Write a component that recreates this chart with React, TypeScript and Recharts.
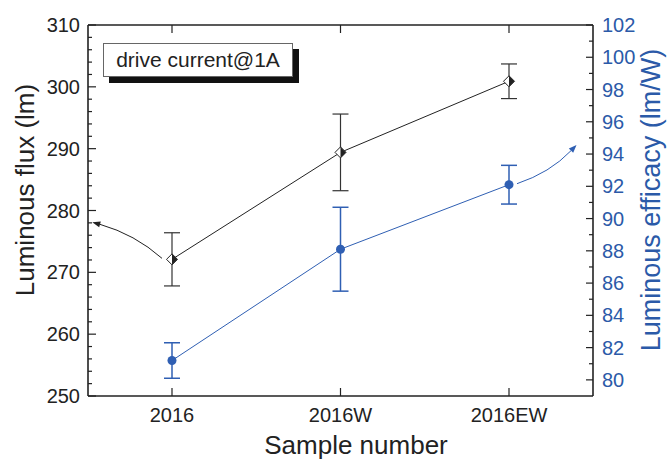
import { LineChart, Line, XAxis, YAxis, ErrorBar } from 'recharts';

const categories = ['2016', '2016W', '2016EW'];
const flux = [272.1, 289.4, 300.9];
const fluxErr = [4.3, 6.2, 2.8];
const efficacy = [81.2, 88.1, 92.1];
const efficacyErr = [1.1, 2.6, 1.2];

const fluxTicks = [
  250, 252, 254, 256, 258, 260, 262, 264, 266, 268, 270, 272, 274, 276, 278, 280,
  282, 284, 286, 288, 290, 292, 294, 296, 298, 300, 302, 304, 306, 308, 310,
];
const efficacyTicks = [
  80, 81, 82, 83, 84, 85, 86, 87, 88, 89, 90, 91, 92, 93, 94, 95, 96, 97, 98, 99, 100, 101, 102,
];

const data = categories.map((name, i) => ({
  name,
  flux: flux[i],
  fluxErr: fluxErr[i],
  efficacy: efficacy[i],
  efficacyErr: efficacyErr[i],
}));

const FONT = '"Liberation Sans", Arial, Helvetica, sans-serif';
const INK = '#222';
const BLUE = '#2f5fb3';
const BLUE_TEXT = '#2b5aa8';
const X_PAD = { left: 84, right: 84 };

function arrowHead(x: number, y: number, dx: number, dy: number, color: string) {
  const n = Math.hypot(dx, dy);
  const ux = dx / n;
  const uy = dy / n;
  const len = 8;
  const hw = 3;
  const tx = x + ux * len;
  const ty = y + uy * len;
  const pts = `${tx},${ty} ${x - uy * hw},${y + ux * hw} ${x + uy * hw},${y - ux * hw}`;
  return <polygon points={pts} fill={color} />;
}

// eslint-disable-next-line @typescript-eslint/no-explicit-any
function FluxDot({ cx, cy, index }: any) {
  const s = 5.5;
  return (
    <g key={`fd${index}`}>
      {index === 0 && (
        <g>
          <path
            d={`M${cx - 10},${cy - 1} Q${cx - 37},${cy - 25} ${cx - 72},${cy - 35}`}
            fill="none"
            stroke={INK}
            strokeWidth={1}
          />
          {arrowHead(cx - 72, cy - 35, -35, -10, INK)}
        </g>
      )}
      <polygon
        points={`${cx},${cy - s} ${cx + s},${cy} ${cx},${cy + s} ${cx - s},${cy}`}
        fill="#fff"
        stroke={INK}
        strokeWidth={1}
      />
      <polygon points={`${cx},${cy - s} ${cx + s},${cy} ${cx},${cy + s}`} fill={INK} />
    </g>
  );
}

// eslint-disable-next-line @typescript-eslint/no-explicit-any
function EffDot({ cx, cy, index }: any) {
  return (
    <g key={`ed${index}`}>
      {index === 2 && (
        <g>
          <path
            d={`M${cx + 8},${cy - 1} Q${cx + 41},${cy - 12} ${cx + 62},${cy - 34}`}
            fill="none"
            stroke={BLUE}
            strokeWidth={1}
          />
          {arrowHead(cx + 62, cy - 34, 22, -23, BLUE)}
        </g>
      )}
      <circle cx={cx} cy={cy} r={4.5} fill={BLUE} />
    </g>
  );
}

// eslint-disable-next-line @typescript-eslint/no-explicit-any
function LeftTick({ x, y, payload }: any) {
  const v = payload.value;
  const major = v % 10 === 0;
  const ax = x + 8;
  return (
    <g>
      <line x1={ax} x2={ax + (major ? 8 : 4)} y1={y} y2={y} stroke={INK} strokeWidth={1.2} />
      {major && (
        <text x={x} y={y} dy="0.35em" textAnchor="end" fontSize={20} fill={INK} fontFamily={FONT}>
          {v}
        </text>
      )}
    </g>
  );
}

// eslint-disable-next-line @typescript-eslint/no-explicit-any
function RightTick({ x, y, payload }: any) {
  const v = payload.value;
  const major = v % 2 === 0;
  const ax = x - 9;
  return (
    <g>
      <line x1={ax} x2={ax - (major ? 7 : 4)} y1={y} y2={y} stroke={INK} strokeWidth={1.2} />
      {major && (
        <text x={x} y={y} dy="0.35em" textAnchor="start" fontSize={20} fill={BLUE_TEXT} fontFamily={FONT}>
          {v}
        </text>
      )}
    </g>
  );
}

// eslint-disable-next-line @typescript-eslint/no-explicit-any
function BottomTick({ x, y, payload }: any) {
  return (
    <g>
      <line x1={x} x2={x} y1={y} y2={y - 8} stroke={INK} strokeWidth={1.2} />
      <text x={x} y={y + 26} textAnchor="middle" fontSize={20} fill={INK} fontFamily={FONT}>
        {payload.value}
      </text>
    </g>
  );
}

// eslint-disable-next-line @typescript-eslint/no-explicit-any
function TopTick({ x, y }: any) {
  return <line x1={x} x2={x} y1={y} y2={y + 8} stroke={INK} strokeWidth={1.2} />;
}

const axisLine = { stroke: INK, strokeWidth: 1.6 };

export default function App() {
  return (
    <div
      style={{
        position: 'absolute',
        left: 0,
        top: 0,
        width: 667,
        height: 460,
        background: '#fff',
        fontFamily: FONT,
      }}
    >
      <LineChart width={667} height={460} data={data} margin={{ top: 0, right: 0, bottom: 0, left: 0 }}>
        <XAxis
          xAxisId="bottom"
          dataKey="name"
          height={64}
          padding={X_PAD}
          axisLine={axisLine}
          tickLine={false}
          tickSize={0}
          tickMargin={0}
          interval={0}
          tick={<BottomTick />}
        />
        <XAxis
          xAxisId="top"
          dataKey="name"
          orientation="top"
          height={25}
          padding={X_PAD}
          axisLine={axisLine}
          tickLine={false}
          tickSize={0}
          tickMargin={0}
          interval={0}
          tick={<TopTick />}
        />
        <YAxis
          yAxisId="left"
          type="number"
          domain={[250, 310]}
          ticks={fluxTicks}
          width={88}
          axisLine={axisLine}
          tickLine={false}
          tickSize={0}
          tickMargin={8}
          interval={0}
          tick={<LeftTick />}
        />
        <YAxis
          yAxisId="right"
          orientation="right"
          type="number"
          domain={[79, 102]}
          ticks={efficacyTicks}
          width={74}
          axisLine={axisLine}
          tickLine={false}
          tickSize={0}
          tickMargin={9}
          interval={0}
          tick={<RightTick />}
        />
        <Line
          xAxisId="top"
          yAxisId="right"
          dataKey="efficacy"
          stroke={BLUE}
          strokeWidth={1}
          dot={(p: any) => <EffDot key={`e${p.index}`} {...p} />}
          activeDot={false}
          isAnimationActive={false}
        >
          <ErrorBar dataKey="efficacyErr" width={8} stroke={BLUE} strokeWidth={1.5} isAnimationActive={false} />
        </Line>
        <Line
          xAxisId="bottom"
          yAxisId="left"
          dataKey="flux"
          stroke={INK}
          strokeWidth={1}
          dot={(p: any) => <FluxDot key={`f${p.index}`} {...p} />}
          activeDot={false}
          isAnimationActive={false}
        >
          <ErrorBar dataKey="fluxErr" width={8} stroke="#333" strokeWidth={1.2} isAnimationActive={false} />
        </Line>
      </LineChart>

      {/* note box with drop shadow */}
      <div style={{ position: 'absolute', left: 109, top: 49, width: 190, height: 34, background: '#111' }} />
      <div
        style={{
          position: 'absolute',
          left: 103,
          top: 43,
          width: 188,
          height: 32,
          background: '#fff',
          border: '1px solid #666',
          fontSize: 21,
          color: INK,
          lineHeight: '32px',
          textAlign: 'center',
          whiteSpace: 'nowrap',
        }}
      >
        drive current@1A
      </div>

      <div
        style={{
          position: 'absolute',
          left: 25,
          top: 190,
          transform: 'translate(-50%, -50%) rotate(-90deg)',
          fontSize: 26,
          lineHeight: 1,
          color: INK,
          whiteSpace: 'nowrap',
        }}
      >
        Luminous flux (lm)
      </div>
      <div
        style={{
          position: 'absolute',
          left: 651,
          top: 200,
          transform: 'translate(-50%, -50%) rotate(-90deg)',
          fontSize: 27,
          lineHeight: 1,
          color: BLUE_TEXT,
          whiteSpace: 'nowrap',
        }}
      >
        Luminous efficacy (lm/W)
      </div>
      <div
        style={{
          position: 'absolute',
          left: 356,
          top: 445,
          transform: 'translate(-50%, -50%)',
          fontSize: 26,
          lineHeight: 1,
          color: INK,
          whiteSpace: 'nowrap',
        }}
      >
        Sample number
      </div>
    </div>
  );
}
